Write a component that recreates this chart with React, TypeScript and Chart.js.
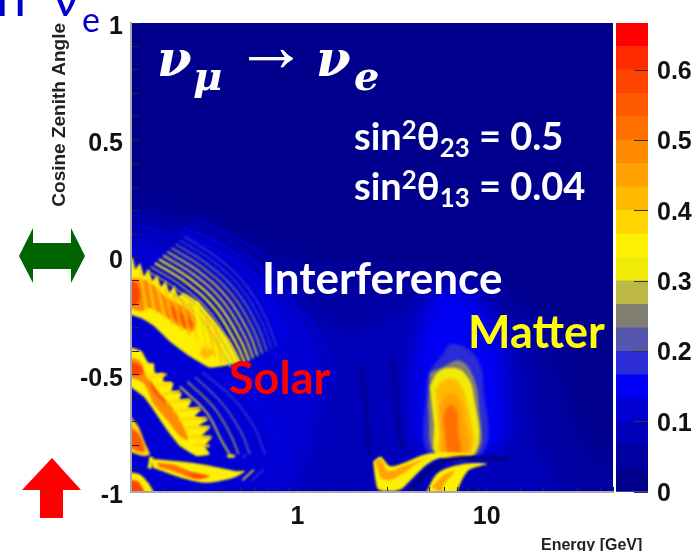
import React, { useEffect, useRef } from "react";
import { Chart, registerables } from "chart.js";

Chart.register(...registerables);

type P = [number, number]; // [log10(E/GeV), cos zenith]

const colorbarValues = [0, 0.1, 0.2, 0.3, 0.4, 0.5, 0.6];
const bandWidth = 0.03335;
const palette = ["#00008c","#0000a2","#0000ba","#0000d4","#0000f4","#2c2cd6","#5656ae","#807f72","#bdb745","#f0ea06","#fdf000","#ffd400","#ffba00","#ffa200","#ff8a00","#ff7000","#ff5a00","#ff4400","#ff2a00","#ff0000"];

const frameBox: P[] = [[-1.4,1.4],[2.1,1.4],[2.1,-1.4],[-1.4,-1.4]];
const bandOuter: P[] = [[-1.4,0.31],[-0.62,0.2],[-0.2,0.06],[0.23,-0.04],[0.65,-0.07],[1.07,-0.12],[1.31,-0.31],[1.44,-0.61],[1.6,-0.86],[2.1,-0.92],[2.1,-1.4],[-1.4,-1.4]];
const bandInner: P[] = [[-1.4,0.12],[-0.51,-0.02],[-0.09,-0.18],[0.28,-0.31],[0.6,-0.2],[0.92,-0.18],[1.15,-0.35],[1.23,-0.61],[1.31,-0.86],[1.6,-1.4],[-1.4,-1.4]];
const solarGlow: P[] = [[-1.4,0.08],[-0.62,0.06],[-0.3,-0.05],[0,-0.25],[0.15,-0.5],[0.1,-0.7],[0,-0.95],[-0.2,-1.4],[-1.4,-1.4]];
const matterGlow: P[] = [[0.7,-0.16],[0.89,-0.14],[1.05,-0.31],[1.1,-0.61],[1.05,-0.82],[0.7,-0.85],[0.61,-0.69],[0.62,-0.39]];

const matterHalo: P[] = [[0.77,-0.41],[0.81,-0.37],[0.9,-0.39],[0.96,-0.45],[0.98,-0.53],[0.98,-0.83],[0.7,-0.84],[0.68,-0.56],[0.7,-0.48]];
const matterGrey: P[] = [[0.7,-0.49],[0.76,-0.47],[0.86,-0.44],[0.93,-0.51],[0.96,-0.64],[0.95,-0.83],[0.73,-0.84],[0.69,-0.64]];
const matterYellow: P[] = [[0.7,-0.55],[0.74,-0.49],[0.81,-0.47],[0.88,-0.49],[0.93,-0.58],[0.94,-0.83],[0.74,-0.84],[0.72,-0.7]];
const matterGold: P[] = [[0.73,-0.56],[0.78,-0.52],[0.85,-0.53],[0.9,-0.64],[0.92,-0.83],[0.76,-0.84],[0.75,-0.75]];
const matterAmber: P[] = [[0.75,-0.64],[0.79,-0.58],[0.85,-0.6],[0.88,-0.69],[0.9,-0.83],[0.77,-0.84],[0.76,-0.75]];
const matterCore: P[] = [[0.77,-0.68],[0.8,-0.63],[0.84,-0.65],[0.85,-0.75],[0.86,-0.83],[0.79,-0.84]];

const lowerBand: P[] = [[0.4,-0.87],[0.44,-0.85],[0.49,-0.89],[0.58,-0.87],[0.67,-0.84],[0.77,-0.83],[0.95,-0.84],[0.77,-0.85],[0.69,-0.88],[0.61,-0.94],[0.54,-0.99],[0.43,-0.99],[0.41,-0.94]];
const lowerBandCore: P[] = [[0.41,-0.87],[0.44,-0.86],[0.48,-0.91],[0.56,-0.89],[0.63,-0.87],[0.7,-0.85],[0.63,-0.88],[0.56,-0.92],[0.49,-0.95],[0.44,-0.94]];
const lowerFan: P[] = [[0.67,-1.02],[0.74,-0.92],[0.88,-0.88],[1.0,-0.88],[0.9,-0.91],[0.83,-1.02]];
const lowerFanCore: P[] = [[0.71,-0.98],[0.77,-0.93],[0.83,-0.91],[0.78,-0.96],[0.76,-1.0]];
const darkArc: P[] = [[0.6,-0.99],[0.68,-0.92],[0.77,-0.87],[0.95,-0.855],[1.12,-0.86]];

const blobA: P[] = [[-0.92,0],[-0.87,0],[-0.855,-0.05],[-0.83,-0.025],[-0.81,-0.08],[-0.785,-0.05],[-0.765,-0.1],[-0.74,-0.075],[-0.72,-0.125],[-0.695,-0.1],[-0.675,-0.15],[-0.65,-0.12],[-0.63,-0.165],[-0.6,-0.15],[-0.52,-0.19],[-0.44,-0.265],[-0.36,-0.35],[-0.3,-0.445],[-0.46,-0.47],[-0.57,-0.42],[-0.67,-0.36],[-0.76,-0.29],[-0.82,-0.26],[-0.92,-0.235]];
const blobAOrange: P[] = [[-0.92,-0.085],[-0.79,-0.1],[-0.69,-0.17],[-0.58,-0.22],[-0.53,-0.27],[-0.55,-0.315],[-0.62,-0.295],[-0.71,-0.245],[-0.78,-0.215],[-0.83,-0.23],[-0.92,-0.2]];
const blobAPatch: P[] = [[-0.5,-0.38],[-0.44,-0.4],[-0.48,-0.43],[-0.52,-0.41]];
const blobAEdgeCore: P[] = [[-0.92,-0.1],[-0.85,-0.11],[-0.83,-0.16],[-0.85,-0.2],[-0.92,-0.2]];
const blobAMidCore: P[] = [[-0.67,-0.2],[-0.58,-0.255],[-0.54,-0.285],[-0.58,-0.3],[-0.67,-0.25]];

const blobB: P[] = [[-0.92,-0.38],[-0.866,-0.386],[-0.822,-0.4],[-0.787,-0.449],[-0.757,-0.452],[-0.752,-0.492],[-0.704,-0.492],[-0.708,-0.528],[-0.655,-0.535],[-0.664,-0.57],[-0.611,-0.577],[-0.62,-0.606],[-0.558,-0.608],[-0.576,-0.641],[-0.506,-0.648],[-0.541,-0.677],[-0.47,-0.691],[-0.523,-0.719],[-0.462,-0.726],[-0.506,-0.762],[-0.453,-0.769],[-0.488,-0.804],[-0.462,-0.84],[-0.532,-0.847],[-0.62,-0.804],[-0.69,-0.733],[-0.761,-0.648],[-0.814,-0.591],[-0.92,-0.528]];
const blobBOrange: P[] = [[-0.92,-0.421],[-0.831,-0.442],[-0.796,-0.506],[-0.743,-0.563],[-0.673,-0.627],[-0.62,-0.691],[-0.576,-0.776],[-0.62,-0.762],[-0.69,-0.691],[-0.761,-0.62],[-0.814,-0.535],[-0.92,-0.506]];
const blobBEdgeCore: P[] = [[-0.92,-0.435],[-0.83,-0.46],[-0.82,-0.5],[-0.92,-0.5]];
const blobBMidCore: P[] = [[-0.78,-0.52],[-0.726,-0.584],[-0.682,-0.627],[-0.726,-0.606],[-0.77,-0.563]];
const blobC: P[] = [[-0.92,-0.64],[-0.84,-0.719],[-0.805,-0.79],[-0.778,-0.84],[-0.814,-0.847],[-0.92,-0.819]];
const blobCOrange: P[] = [[-0.92,-0.712],[-0.84,-0.748],[-0.805,-0.826],[-0.84,-0.826],[-0.92,-0.79]];
const blobD: P[] = [[-0.778,-0.861],[-0.734,-0.861],[-0.638,-0.868],[-0.497,-0.883],[-0.321,-0.911],[-0.277,-0.911],[-0.338,-0.939],[-0.479,-0.961],[-0.585,-0.946],[-0.69,-0.918],[-0.761,-0.897]];
const blobDOrange: P[] = [[-0.743,-0.875],[-0.655,-0.883],[-0.567,-0.911],[-0.462,-0.932],[-0.532,-0.946],[-0.655,-0.911],[-0.726,-0.897]];
const blobDCore: P[] = [[-0.585,-0.918],[-0.479,-0.935],[-0.541,-0.939]];
const blobE: P[] = [[-0.92,-0.91],[-0.831,-0.925],[-0.787,-0.961],[-0.752,-1.02],[-0.92,-1.02]];
const blobEOrange: P[] = [[-0.92,-0.945],[-0.84,-0.955],[-0.8,-1.02],[-0.92,-1.02]];
const stubYellow: P[] = [[-0.77,-0.85],[-0.78,-0.9]];

const arcFar1: P[] = [[-0.92,0.2],[-0.52,0.1],[-0.09,-0.1],[0.23,-0.35],[0.3,-0.5]];
const arcFar2: P[] = [[-0.92,0.15],[-0.5,0.06],[-0.15,-0.12],[0.12,-0.33],[0.2,-0.55]];
const arcFar3: P[] = [[-0.92,0.11],[-0.55,0.05],[-0.22,-0.12],[0.03,-0.32],[0.1,-0.55]];
const arcA1: P[] = [[-0.752,-0.023],[-0.585,-0.108],[-0.435,-0.221],[-0.321,-0.37],[-0.277,-0.449]];
const arcA2: P[] = [[-0.73,-0.007],[-0.563,-0.092],[-0.413,-0.205],[-0.299,-0.354],[-0.255,-0.44]];
const arcA3: P[] = [[-0.708,0.009],[-0.541,-0.076],[-0.391,-0.189],[-0.277,-0.338],[-0.233,-0.43]];
const arcA4: P[] = [[-0.686,0.025],[-0.519,-0.06],[-0.369,-0.173],[-0.255,-0.322],[-0.21,-0.42]];
const arcA5: P[] = [[-0.664,0.041],[-0.497,-0.044],[-0.347,-0.157],[-0.233,-0.306],[-0.185,-0.41]];
const arcA6: P[] = [[-0.642,0.057],[-0.475,-0.028],[-0.325,-0.141],[-0.211,-0.29],[-0.16,-0.4]];
const arcA7: P[] = [[-0.62,0.073],[-0.453,-0.012],[-0.303,-0.125],[-0.189,-0.274],[-0.135,-0.39]];
const arcA8: P[] = [[-0.598,0.089],[-0.431,0.004],[-0.281,-0.109],[-0.167,-0.258],[-0.11,-0.38]];
const arcA9: P[] = [[-0.62,0.11],[-0.4,0.02],[-0.25,-0.09],[-0.135,-0.24],[-0.08,-0.37]];
const arcA10: P[] = [[-0.6,0.13],[-0.37,0.04],[-0.22,-0.075],[-0.1,-0.225],[-0.04,-0.36]];
const arcA11: P[] = [[-0.58,0.15],[-0.33,0.055],[-0.18,-0.06],[-0.06,-0.21],[0,-0.35]];
const arcA12: P[] = [[-0.56,0.17],[-0.29,0.07],[-0.13,-0.045],[-0.01,-0.2],[0.06,-0.35]];
const arcIn1: P[] = [[-0.774,-0.039],[-0.607,-0.124],[-0.457,-0.237],[-0.343,-0.386],[-0.3,-0.46]];
const arcIn2: P[] = [[-0.796,-0.055],[-0.629,-0.14],[-0.479,-0.253],[-0.365,-0.402],[-0.325,-0.465]];
const arcIn3: P[] = [[-0.651,-0.156],[-0.501,-0.269],[-0.387,-0.418],[-0.35,-0.47]];

const steepA1: P[] = [[-0.83,-0.06],[-0.796,-0.23]];
const steepA2: P[] = [[-0.787,-0.08],[-0.752,-0.243]];
const steepA3: P[] = [[-0.743,-0.108],[-0.699,-0.264]];
const steepA4: P[] = [[-0.699,-0.129],[-0.655,-0.285]];
const steepA5: P[] = [[-0.655,-0.15],[-0.611,-0.314]];
const steepA6: P[] = [[-0.611,-0.172],[-0.567,-0.335]];
const steepA7: P[] = [[-0.567,-0.193],[-0.523,-0.363]];
const steepA8: P[] = [[-0.523,-0.214],[-0.476,-0.399]];
const steepA9: P[] = [[-0.479,-0.25],[-0.435,-0.427]];
const steepA10: P[] = [[-0.435,-0.292],[-0.4,-0.449]];
const ridgeA: P[] = [[-0.53,-0.19],[-0.52,-0.41]];

const toothB1: P[] = [[-0.778,-0.513],[-0.69,-0.499]];
const toothB2: P[] = [[-0.752,-0.549],[-0.664,-0.535]];
const toothB3: P[] = [[-0.717,-0.584],[-0.62,-0.57]];
const toothB4: P[] = [[-0.69,-0.62],[-0.567,-0.606]];
const toothB5: P[] = [[-0.655,-0.655],[-0.514,-0.641]];
const toothB6: P[] = [[-0.629,-0.691],[-0.479,-0.684]];
const toothB7: P[] = [[-0.594,-0.726],[-0.462,-0.722]];
const toothB8: P[] = [[-0.576,-0.762],[-0.453,-0.765]];
const toothB9: P[] = [[-0.55,-0.797],[-0.462,-0.804]];

const arcB1: P[] = [[-0.62,-0.55],[-0.48,-0.66],[-0.4,-0.78],[-0.35,-0.85]];
const arcB2: P[] = [[-0.58,-0.53],[-0.44,-0.64],[-0.35,-0.76],[-0.31,-0.84]];
const arcB3: P[] = [[-0.54,-0.51],[-0.4,-0.62],[-0.3,-0.74],[-0.25,-0.84]];
const arcB4: P[] = [[-0.5,-0.49],[-0.34,-0.6],[-0.23,-0.72],[-0.17,-0.84]];
const arcB5: P[] = [[-0.44,-0.48],[-0.26,-0.58],[-0.14,-0.71],[-0.08,-0.84]];
const dashD1: P[] = [[-0.29,-0.95],[-0.23,-0.905]];
const dashD2: P[] = [[-0.24,-0.95],[-0.18,-0.905]];
const dashB1: P[] = [[-0.37,-0.847],[-0.33,-0.847]];
const dashB2: P[] = [[-0.29,-0.847],[-0.27,-0.847]];
const darkStripe1: P[] = [[0.33,-0.45],[0.36,-0.62],[0.38,-0.84]];
const darkStripe2: P[] = [[0.5,-0.42],[0.52,-0.6],[0.55,-0.82]];

// [shape, colour level, curve tension, softness]
const filled: [P[], number, number, number][] = [
  [frameBox, 0, 0, 0],
  [bandOuter, 1, 0.4, 14],
  [bandInner, 2, 0.4, 12],
  [solarGlow, 3, 0.4, 9],
  [matterGlow, 4, 0.4, 9],
  [matterHalo, 5, 0.4, 1.5],
  [matterGrey, 7, 0.4, 1.2],
  [matterYellow, 9, 0.4, 1.2],
  [matterGold, 12, 0.4, 1.5],
  [matterAmber, 13, 0.4, 1.5],
  [matterCore, 15, 0.4, 1.5],
  [lowerBand, 10, 0.3, 1.1],
  [lowerBandCore, 13, 0.3, 1.1],
  [lowerFan, 10, 0.3, 1.1],
  [lowerFanCore, 13, 0.3, 1.1],
  [blobA, 10, 0.1, 1],
  [blobAOrange, 14, 0.3, 1.3],
  [blobAPatch, 12, 0.3, 1.3],
  [blobAEdgeCore, 17, 0.3, 1.3],
  [blobAMidCore, 16, 0.3, 1.3],
  [blobB, 10, 0.1, 1],
  [blobBOrange, 14, 0.3, 1.2],
  [blobBEdgeCore, 17, 0.3, 1.2],
  [blobBMidCore, 16, 0.3, 1.2],
  [blobC, 11, 0.2, 1],
  [blobCOrange, 16, 0.3, 1],
  [blobD, 10, 0.3, 1],
  [blobDOrange, 15, 0.3, 1],
  [blobDCore, 17, 0.3, 1],
  [blobE, 10, 0.2, 1],
  [blobEOrange, 17, 0.2, 1],
];
// [shape, colour level, line width]
const stroked: [P[], number, number][] = [
  [darkArc, 0, 5],
  [darkStripe1, 1, 7],
  [darkStripe2, 1, 7],
  [arcFar1, 2, 3],
  [arcFar2, 3, 3],
  [arcFar3, 3, 3],
  [arcA12, 3, 2],
  [arcA11, 3, 2],
  [arcA10, 4, 2],
  [arcA9, 4, 2],
  [arcA8, 5, 2],
  [arcA7, 5, 2],
  [arcA6, 6, 2.2],
  [arcA5, 7, 2.2],
  [arcA4, 8, 2.2],
  [arcA3, 8, 2.4],
  [arcA2, 9, 2.4],
  [arcA1, 9, 2.4],
  [arcIn1, 8, 1.5],
  [arcIn2, 8, 1.5],
  [arcIn3, 8, 1.5],
  [steepA1, 11, 2],
  [steepA2, 11, 2],
  [steepA3, 11, 2],
  [steepA4, 12, 2],
  [steepA5, 12, 2],
  [steepA6, 12, 2],
  [steepA7, 12, 2],
  [steepA8, 11, 2],
  [steepA9, 12, 2],
  [steepA10, 12, 2],
  [ridgeA, 10, 3],
  [stubYellow, 10, 4],
  [arcB5, 4, 2],
  [arcB4, 5, 2],
  [arcB3, 6, 2],
  [arcB2, 7, 2],
  [arcB1, 8, 2],
  [toothB1, 11, 2.5],
  [toothB2, 11, 2.5],
  [toothB3, 11, 2.5],
  [toothB4, 11, 2.5],
  [toothB5, 11, 2.5],
  [toothB6, 11, 2.5],
  [toothB7, 11, 2.5],
  [toothB8, 11, 2.5],
  [toothB9, 11, 2.5],
  [dashD1, 8, 2],
  [dashD2, 5, 2],
  [dashB1, 9, 3],
  [dashB2, 5, 3],
];

const toXY = (s: P[]) => s.map(([l, c]) => ({ x: Math.pow(10, l), y: c }));
const tickFont = { family: "'Liberation Sans', Arial, sans-serif", size: 25, weight: "bold" as const };
const note = "Lato, 'Open Sans', sans-serif";

function abs(left: number, top: number, extra: React.CSSProperties = {}): React.CSSProperties {
  return { position: "absolute", left, top, whiteSpace: "nowrap", lineHeight: 1, ...extra };
}
const noPad = (s: any) => { s.paddingTop = 0; s.paddingBottom = 0; s.paddingLeft = 0; s.paddingRight = 0; };

export default function App() {
  const mainRef = useRef<HTMLCanvasElement>(null);
  const barRef = useRef<HTMLCanvasElement>(null);

  useEffect(() => {
    const datasets: any[] = [
      ...filled.map(([s, lvl, tension, soft]) => ({
        data: toXY(s), showLine: true, fill: "shape", backgroundColor: palette[lvl],
        borderWidth: 0, pointRadius: 0, tension, soft,
      })),
      ...stroked.map(([s, lvl, w]) => ({
        data: toXY(s), showLine: true, fill: false, borderColor: palette[lvl],
        borderWidth: w, pointRadius: 0, tension: 0.4, soft: 1,
      })),
    ].reverse();

    const filterFor = (i: number) => {
      const d = datasets[i];
      return d && d.soft ? `blur(${d.soft}px)` : "none";
    };
    const soften = {
      id: "soften",
      beforeDatasetsDraw(c: any) { c.ctx.save(); c.ctx.filter = filterFor(datasets.length - 1); },
      afterDatasetDraw(c: any, args: any) { c.ctx.filter = filterFor(args.index - 1); },
      afterDatasetsDraw(c: any) { c.ctx.restore(); },
    };

    const main = new Chart(mainRef.current!, {
      type: "scatter",
      data: { datasets },
      plugins: [soften],
      options: {
        animation: false, responsive: false,
        layout: { padding: { left: 48, top: 23, right: 83, bottom: 0 } },
        plugins: { legend: { display: false }, tooltip: { enabled: false } },
        scales: {
          x: {
            type: "logarithmic", min: 0.1324, max: 46.4,
            afterFit(s: any) { s.height = 59; noPad(s); },
            border: { color: "#a9a9a9", width: 2, z: 2 },
            grid: { drawOnChartArea: false, tickLength: -5, color: "#20204a", z: 1 },
            ticks: {
              includeBounds: false, autoSkip: false, maxRotation: 0, padding: 15, color: "#111", font: tickFont,
              callback: (v: any) => (v === 1 || v === 10 ? String(v) : ""),
            },
          },
          y: {
            min: -1, max: 1,
            afterFit(s: any) { s.width = 83; noPad(s); },
            border: { color: "#a9a9a9", width: 2, z: 2 },
            title: { display: true, text: "Cosine Zenith Angle", align: "end", color: "#222", padding: 0, font: { family: "'Liberation Sans', Arial, sans-serif", size: 19, weight: "bold" } },
            grid: { drawOnChartArea: false, tickLength: -8, color: "#20204a", z: 1 },
            ticks: {
              stepSize: 0.1, autoSkip: false, padding: 16, labelOffset: 4, color: "#111", font: tickFont,
              callback: (v: any) => {
                const r = Math.round(Number(v) * 10) / 10;
                return Math.abs(r * 2 - Math.round(r * 2)) < 1e-6 ? String(r) : "";
              },
            },
          },
        },
      },
    } as any);

    const bar = new Chart(barRef.current!, {
      type: "bar",
      data: {
        labels: ["P"],
        datasets: palette.map((c) => ({ data: [bandWidth], backgroundColor: c, borderWidth: 0, barPercentage: 1, categoryPercentage: 1, stack: "s" })),
      },
      options: {
        animation: false, responsive: false,
        layout: { padding: { left: 6, top: 23, right: 0, bottom: 59 } },
        plugins: { legend: { display: false }, tooltip: { enabled: false } },
        scales: {
          x: { display: false, stacked: true },
          y: {
            position: "right", stacked: true, min: 0, max: palette.length * bandWidth,
            afterBuildTicks(s: any) { s.ticks = colorbarValues.map((value) => ({ value })); },
            afterFit(s: any) { s.width = 48; noPad(s); },
            border: { display: false },
            grid: { drawOnChartArea: false, tickLength: -14, color: "#333", z: 1 },
            ticks: { padding: 23, labelOffset: 2, color: "#111", font: tickFont, callback: (v: any) => String(Math.round(v * 10) / 10) },
          },
        },
      },
    } as any);

    return () => { main.destroy(); bar.destroy(); };
  }, []);

  const white: React.CSSProperties = { fontFamily: note, fontWeight: 700, color: "#fff" };
  const sub: React.CSSProperties = { fontSize: "0.68em", verticalAlign: "-0.28em", lineHeight: 0 };
  const sup: React.CSSProperties = { fontSize: "0.68em", verticalAlign: "0.42em", lineHeight: 0 };
  const serif = "'DejaVu Serif', 'Liberation Serif', serif";

  return (
    <div style={{ position: "fixed", left: 0, top: 0, width: 696, height: 551, overflow: "hidden", background: "#fff" }}>
      <canvas ref={mainRef} width={696} height={551} style={{ position: "absolute", left: 0, top: 0 }} />
      <canvas ref={barRef} width={86} height={551} style={{ position: "absolute", left: 610, top: 0 }} />

      <div style={abs(-4, -31, { fontFamily: note, fontSize: 54, color: "#0000cc" })}>n</div>
      <div style={abs(52, -31, { fontFamily: note, fontSize: 54, color: "#0000cc" })}>ν</div>
      <div style={abs(82, 2, { fontFamily: note, fontSize: 34, color: "#0000cc" })}>e</div>

      <div style={abs(157, 34, { fontFamily: serif, fontStyle: "italic", fontWeight: 700, fontSize: 50, color: "#fff" })}>ν</div>
      <div style={abs(193, 56, { fontFamily: serif, fontStyle: "italic", fontWeight: 700, fontSize: 40, color: "#fff" })}>μ</div>
      <div style={abs(234, 9, { fontFamily: "'Liberation Serif', serif", fontSize: 74, color: "#fff" })}>→</div>
      <div style={abs(316, 34, { fontFamily: serif, fontStyle: "italic", fontWeight: 700, fontSize: 50, color: "#fff" })}>ν</div>
      <div style={abs(354, 56, { fontFamily: serif, fontStyle: "italic", fontWeight: 700, fontSize: 40, color: "#fff" })}>e</div>

      <div style={abs(354, 116, { ...white, fontSize: 38 })}>sin<span style={sup}>2</span>θ<span style={sub}>23</span> = 0.5</div>
      <div style={abs(354, 166, { ...white, fontSize: 38 })}>sin<span style={sup}>2</span>θ<span style={sub}>13</span> = 0.04</div>
      <div style={abs(262, 255, { ...white, fontSize: 44 })}>Interference</div>
      <div style={abs(468, 309, { fontFamily: note, fontWeight: 700, fontSize: 45, color: "#ffff00" })}>Matter</div>
      <div style={abs(229, 355, { fontFamily: note, fontWeight: 700, fontSize: 45, color: "#ff0000" })}>Solar</div>

      <div style={abs(541, 537, { fontFamily: "'Liberation Sans', Arial, sans-serif", fontWeight: 700, fontSize: 16, color: "#222" })}>Energy [GeV]</div>

      <svg width={100} height={320} style={{ position: "absolute", left: 0, top: 220 }}>
        <polygon points="19,36 33,8 33,23 71,23 71,8 85,36 71,63 71,49 33,49 33,63" fill="#006400" />
        <polygon points="52,238 81,270 63,270 63,298 40,298 40,270 22,270" fill="#ff0000" />
      </svg>
    </div>
  );
}
